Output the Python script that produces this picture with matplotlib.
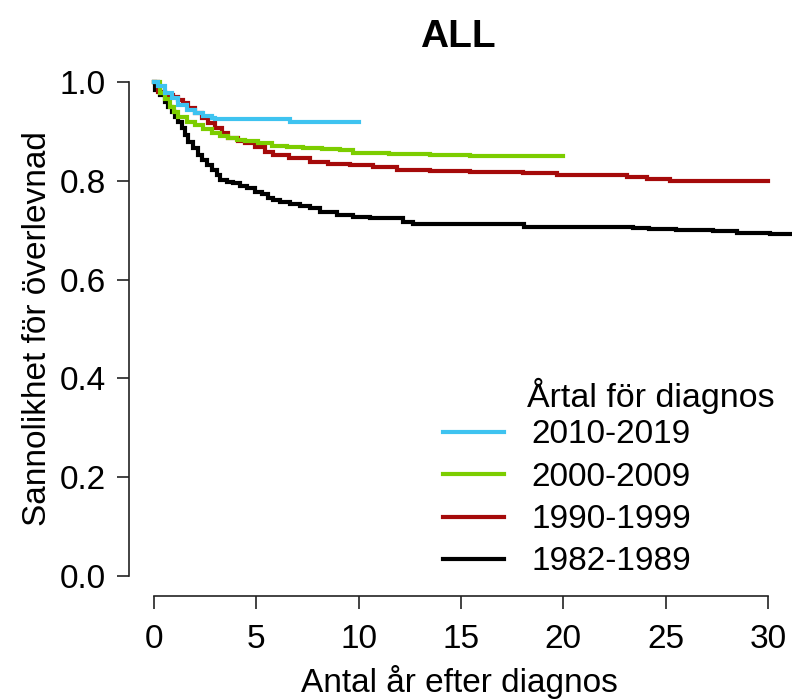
import matplotlib
matplotlib.use("Agg")
import matplotlib.pyplot as plt
from matplotlib.lines import Line2D

plt.rcParams['font.family'] = ['Liberation Sans', 'DejaVu Sans']

# ---------------- data ----------------
title = "ALL"
xlabel = "Antal år efter diagnos"
ylabel = "Sannolikhet för överlevnad"
legend_title = "Årtal för diagnos"

x_ticks = [0, 5, 10, 15, 20, 25, 30]
y_ticks = [0.0, 0.2, 0.4, 0.6, 0.8, 1.0]

t_1982 = [0, 0.05, 0.29, 0.54, 0.70, 0.86, 1.03, 1.19, 1.35, 1.51, 1.68, 1.92,
          2.17, 2.33, 2.57, 2.82, 3.06, 3.22, 3.55, 3.87, 4.20, 4.53, 4.93,
          5.26, 5.58, 5.83, 6.16, 6.64, 7.13, 7.62, 8.11, 8.92, 9.74, 10.55,
          12.18, 12.67, 18.1, 23.4, 24.2, 25.5, 27.3, 28.5, 30.1, 33.0]
s_1982 = [1.0, 0.984, 0.974, 0.960, 0.950, 0.940, 0.930, 0.920, 0.906, 0.893,
          0.879, 0.866, 0.852, 0.842, 0.832, 0.822, 0.812, 0.802, 0.797, 0.795,
          0.790, 0.785, 0.778, 0.773, 0.766, 0.761, 0.758, 0.754, 0.748, 0.744,
          0.737, 0.731, 0.726, 0.724, 0.717, 0.713, 0.707, 0.704, 0.702, 0.700,
          0.698, 0.695, 0.692, 0.692]

t_1990 = [0, 0.21, 0.54, 0.94, 1.19, 1.43, 1.68, 2.0, 2.33, 2.65, 2.98, 3.31,
          3.63, 4.12, 4.45, 4.93, 5.42, 5.83, 6.6, 7.62, 8.5, 9.57, 10.7,
          11.86, 13.5, 15.44, 18.04, 19.67, 23.1, 24.07, 25.2, 30.0]
s_1990 = [1.0, 0.980, 0.974, 0.970, 0.964, 0.957, 0.947, 0.937, 0.927, 0.916,
          0.906, 0.896, 0.886, 0.881, 0.876, 0.869, 0.859, 0.852, 0.846, 0.839,
          0.835, 0.832, 0.827, 0.822, 0.820, 0.818, 0.815, 0.812, 0.807, 0.804,
          0.800, 0.800]

t_2000 = [0, 0.29, 0.55, 0.78, 1.0, 1.19, 1.6, 2.0, 2.41, 2.82, 3.22, 3.63,
          4.04, 4.45, 5.1, 5.75, 6.5, 7.28, 8.2, 9.09, 9.72, 11.5, 13.48,
          15.44, 20.0]
s_2000 = [1.0, 0.977, 0.965, 0.950, 0.940, 0.930, 0.920, 0.913, 0.905, 0.896,
          0.891, 0.886, 0.883, 0.881, 0.876, 0.871, 0.868, 0.866, 0.864, 0.862,
          0.856, 0.854, 0.852, 0.850, 0.850]

t_2010 = [0, 0.21, 0.54, 0.86, 1.19, 1.6, 2.0, 2.41, 2.82, 2.98, 6.64, 10.0]
s_2010 = [1.0, 0.991, 0.977, 0.967, 0.953, 0.943, 0.937, 0.932, 0.928, 0.926,
          0.920, 0.920]

series_labels = ["1982-1989", "1990-1999", "2000-2009", "2010-2019"]
series_t = [t_1982, t_1990, t_2000, t_2010]
series_s = [s_1982, s_1990, s_2000, s_2010]
series_colors = ["#000000", "#A50A0A", "#7CCD00", "#3EC3F0"]

# ---------------- layout ----------------
W, H = 792, 699
fig = plt.figure(figsize=(W / 100, H / 100), dpi=100)

x0px, x30px = 154.0, 768.0
ppx = (x30px - x0px) / 30.0
xlim = (-1.2, 31.2)
left_px = x0px + xlim[0] * ppx
right_px = x0px + xlim[1] * ppx
y0px, y1px = 576.0, 82.0
ppy = y0px - y1px
ylim = (-0.04, 1.04)
bottom_px = y0px - ylim[0] * ppy
top_px = y0px - ylim[1] * ppy

ax = fig.add_axes([left_px / W, 1 - bottom_px / H,
                   (right_px - left_px) / W, (bottom_px - top_px) / H])
ax.set_xlim(*xlim)
ax.set_ylim(*ylim)

for t, s, c in zip(series_t, series_s, series_colors):
    ax.plot(t, s, drawstyle="steps-post", color=c, lw=3.0,
            solid_joinstyle="miter", clip_on=True)

FS = 24
for side in ("top", "right"):
    ax.spines[side].set_visible(False)
ax.spines["left"].set_bounds(0, 1)
ax.spines["bottom"].set_bounds(0, 30)
for side in ("left", "bottom"):
    ax.spines[side].set_linewidth(1.2)
    ax.spines[side].set_color("#222222")

ax.set_xticks(x_ticks)
ax.set_xticklabels([str(v) for v in x_ticks])
ax.set_yticks(y_ticks)
ax.set_yticklabels([f"{v:.1f}" for v in y_ticks])
ax.tick_params(axis="both", direction="out", length=9, width=1.2,
               color="#222222", labelsize=FS)
ax.tick_params(axis="x", pad=11)
ax.tick_params(axis="y", pad=8)

fig.text(458 / W, 1 - 47 / H, title, ha="center", va="baseline",
         fontsize=28, fontweight="bold")
fig.text(459 / W, 1 - 692 / H, xlabel, ha="center", va="baseline", fontsize=FS)
fig.text(46 / W, 1 - 329 / H, ylabel, ha="center", va="baseline",
         rotation=90, rotation_mode="anchor", fontsize=FS)

handles = [Line2D([], [], color=c, lw=3.0) for c in series_colors[::-1]]
labels = series_labels[::-1]
fs_px = FS * 100 / 72
ax.legend(handles, labels, loc="upper left",
          bbox_to_anchor=(443 / W, 1 - 419.5 / H), bbox_transform=fig.transFigure,
          frameon=False, borderpad=0, borderaxespad=0, fontsize=FS,
          handlelength=61 / fs_px, handletextpad=27 / fs_px, labelspacing=0.34)
fig.text(527 / W, 1 - 396 / H, legend_title, ha="left", va="center",
         fontsize=24.5)

fig.savefig("out.png", dpi=100)
